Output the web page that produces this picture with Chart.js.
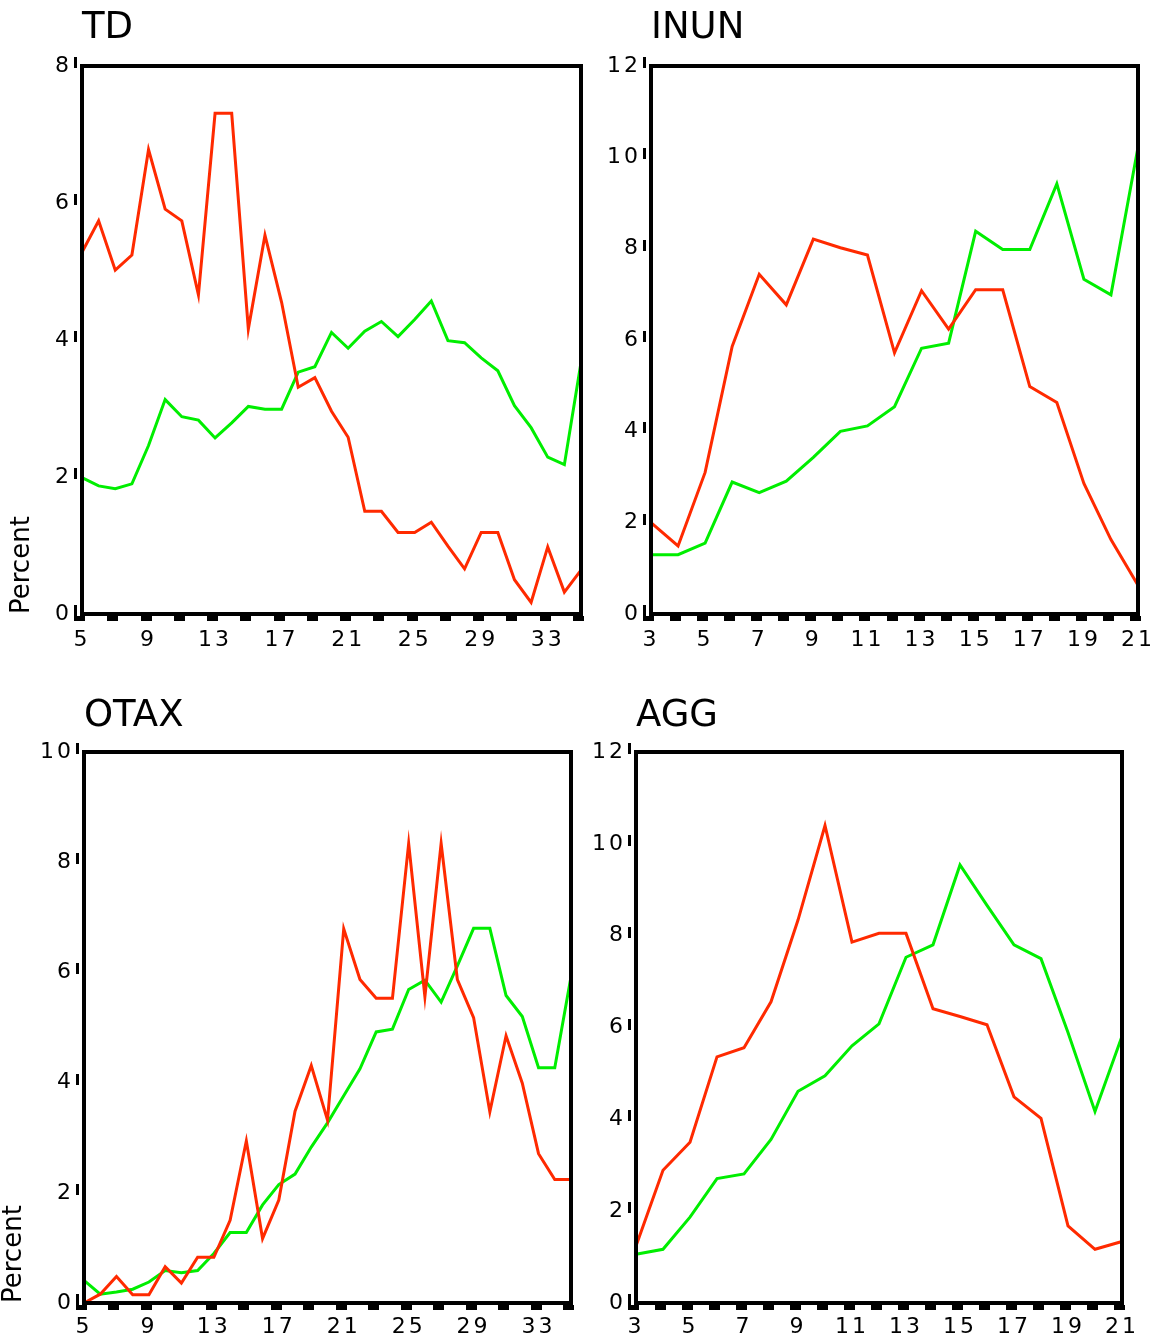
<!DOCTYPE html>
<html>
<head>
<meta charset="utf-8">
<script src="https://cdn.jsdelivr.net/npm/chart.js@4.4.1/dist/chart.umd.min.js"></script>
<style>
body{margin:0;background:#fff}
#wrap{position:relative;width:1165px;height:1342px;overflow:hidden;background:#fff}
canvas{position:absolute}
</style>
</head>
<body>
<div id="wrap">
<canvas id="td" width="600" height="660" style="left:0;top:0"></canvas>
<canvas id="inun" width="575" height="660" style="left:590px;top:0"></canvas>
<canvas id="otax" width="590" height="652" style="left:0;top:690px"></canvas>
<canvas id="agg" width="585" height="652" style="left:580px;top:690px"></canvas>
</div>
<script>
// ages on the x axis
const tdAges = [5,6,7,8,9,10,11,12,13,14,15,16,17,18,19,20,21,22,23,24,25,26,27,28,29,30,31,32,33,34,35]
const inunAges = [3,4,5,6,7,8,9,10,11,12,13,14,15,16,17,18,19,20,21]
const otaxAges = [5,6,7,8,9,10,11,12,13,14,15,16,17,18,19,20,21,22,23,24,25,26,27,28,29,30,31,32,33,34,35]
const aggAges = [3,4,5,6,7,8,9,10,11,12,13,14,15,16,17,18,19,20,21]

// percent values, red and green series
const tdRed = [5.28,5.74,5.02,5.24,6.78,5.91,5.74,4.66,7.31,7.31,4.16,5.53,4.55,3.31,3.45,2.96,2.58,1.50,1.50,1.19,1.19,1.34,0.99,0.66,1.19,1.19,0.50,0.17,0.98,0.32,0.64]
const tdGreen = [1.99,1.87,1.83,1.90,2.46,3.13,2.88,2.83,2.57,2.79,3.03,2.99,2.99,3.53,3.61,4.11,3.88,4.13,4.27,4.05,4.30,4.57,3.99,3.96,3.74,3.55,3.04,2.72,2.29,2.18,3.67]

const inunRed = [2.0,1.49,3.1,5.86,7.44,6.77,8.21,8.02,7.86,5.72,7.08,6.24,7.10,7.10,4.98,4.63,2.86,1.63,0.63]
const inunGreen = [1.30,1.30,1.55,2.89,2.66,2.91,3.43,4.0,4.12,4.54,5.82,5.93,8.38,7.98,7.98,9.42,7.33,6.99,10.22]

const otaxRed = [0,0.16,0.48,0.15,0.15,0.66,0.36,0.83,0.83,1.50,2.94,1.17,1.87,3.48,4.31,3.32,6.79,5.87,5.53,5.53,8.34,5.56,8.34,5.87,5.18,3.47,4.85,3.99,2.71,2.24,2.24]
const otaxGreen = [0.41,0.16,0.20,0.25,0.38,0.59,0.55,0.59,0.90,1.28,1.28,1.78,2.15,2.34,2.83,3.27,3.76,4.25,4.92,4.97,5.69,5.86,5.46,6.12,6.80,6.80,5.58,5.20,4.27,4.27,5.92]

const aggRed = [1.24,2.89,3.50,5.36,5.56,6.56,8.34,10.40,7.86,8.05,8.05,6.41,6.24,6.06,4.49,4.02,1.68,1.17,1.34]
const aggGreen = [1.06,1.17,1.87,2.71,2.81,3.56,4.61,4.95,5.60,6.08,7.53,7.80,9.54,8.66,7.80,7.50,5.89,4.17,5.81]

const FONT = "'DejaVu Sans', Verdana, sans-serif"
const RED = "#ff2a00"
const GREEN = "#00ee00"

Chart.defaults.font.family = FONT
Chart.defaults.color = "#000"

// black frame, little tick bars, wide spacing for tick numbers
const decor = {
  id:"decor",
  beforeDraw(c){ c.ctx.letterSpacing = "0px" },
  afterDatasetsDraw(c){ c.ctx.letterSpacing = "3px" },
  afterDraw(c, args, opts){
    const ctx = c.ctx
    const a = c.chartArea
    const xs = c.scales.x
    const ys = c.scales.y
    ctx.save()
    ctx.letterSpacing = "0px"
    ctx.fillStyle = "#000"
    ctx.strokeStyle = "#000"
    ctx.lineWidth = 4
    ctx.strokeRect(a.left, a.top, a.right - a.left, a.bottom - a.top)
    for(let i = 0; i < c.data.labels.length; i += opts.dashEvery){
      const px = xs.getPixelForValue(i)
      ctx.fillRect(Math.round(px) - 8, a.bottom + 2, 11, 5)
    }
    ys.ticks.forEach(t => {
      const py = ys.getPixelForValue(t.value)
      ctx.fillRect(a.left - 8, Math.round(py) - 9, 3, 11)
    })
    ctx.restore()
  }
}

function makePanel(id, o){

  new Chart(document.getElementById(id), {

    type:"line",

    data:{
      labels:o.ages,
      datasets:[
        {data:o.red, borderColor:RED, borderWidth:3, pointRadius:0, tension:0, fill:false},
        {data:o.green, borderColor:GREEN, borderWidth:3, pointRadius:0, tension:0, fill:false}
      ]
    },

    options:{
      responsive:false,
      animation:false,
      events:[],
      layout:{padding:{left:0, right:o.padRight, top:0, bottom:0}},
      plugins:{
        legend:{display:false},
        tooltip:{enabled:false},
        decor:{dashEvery:o.dashEvery},
        title:{
          display:true, text:o.title, align:"start", fullSize:false, color:"#000",
          font:{size:37, weight:"normal", lineHeight:1.2},
          padding:{top:o.titleTop, bottom:o.titleBottom}
        },
        subtitle:{
          display:!!o.yTitle, text:o.yTitle || "", position:"left", align:"start", fullSize:false, color:"#000",
          font:{size:26, weight:"normal", lineHeight:1.1},
          padding:{top:o.yTitleGap || 0, bottom:0}
        }
      },
      scales:{
        x:{
          type:"category",
          offset:false,
          grid:{display:false, drawTicks:false},
          border:{display:false},
          ticks:{
            z:1, autoSkip:false, maxRotation:0, minRotation:0,
            font:{size:22}, padding:o.xPad,
            callback:function(v, i){ return i % o.labelEvery === 0 ? this.getLabelForValue(v) : "" }
          },
          afterFit:function(s){ s.height = o.xHeight }
        },
        y:{
          min:0,
          max:o.yMax,
          grid:{display:false, drawTicks:false},
          border:{display:false},
          ticks:{z:1, stepSize:2, font:{size:22}, padding:10},
          afterFit:function(s){ s.width = o.yWidth }
        }
      }
    },

    plugins:[decor]

  })

}

makePanel("td", {
  title:"TD", yTitle:"Percent", yTitleGap:8,
  ages:tdAges, red:tdRed, green:tdGreen, yMax:8,
  labelEvery:4, dashEvery:2,
  padRight:19, yWidth:45.4, xHeight:46, xPad:13,
  titleTop:6, titleBottom:15.6
})

makePanel("inun", {
  title:"INUN",
  ages:inunAges, red:inunRed, green:inunGreen, yMax:12,
  labelEvery:2, dashEvery:1,
  padRight:27, yWidth:61, xHeight:46, xPad:13,
  titleTop:6, titleBottom:15.6
})

makePanel("otax", {
  title:"OTAX", yTitle:"Percent", yTitleGap:0,
  ages:otaxAges, red:otaxRed, green:otaxGreen, yMax:10,
  labelEvery:4, dashEvery:2,
  padRight:19, yWidth:55.4, xHeight:39, xPad:11,
  titleTop:4, titleBottom:13.6
})

makePanel("agg", {
  title:"AGG",
  ages:aggAges, red:aggRed, green:aggGreen, yMax:12,
  labelEvery:2, dashEvery:1,
  padRight:43, yWidth:56, xHeight:39, xPad:11,
  titleTop:4, titleBottom:13.6
})
</script>
</body>
</html>
